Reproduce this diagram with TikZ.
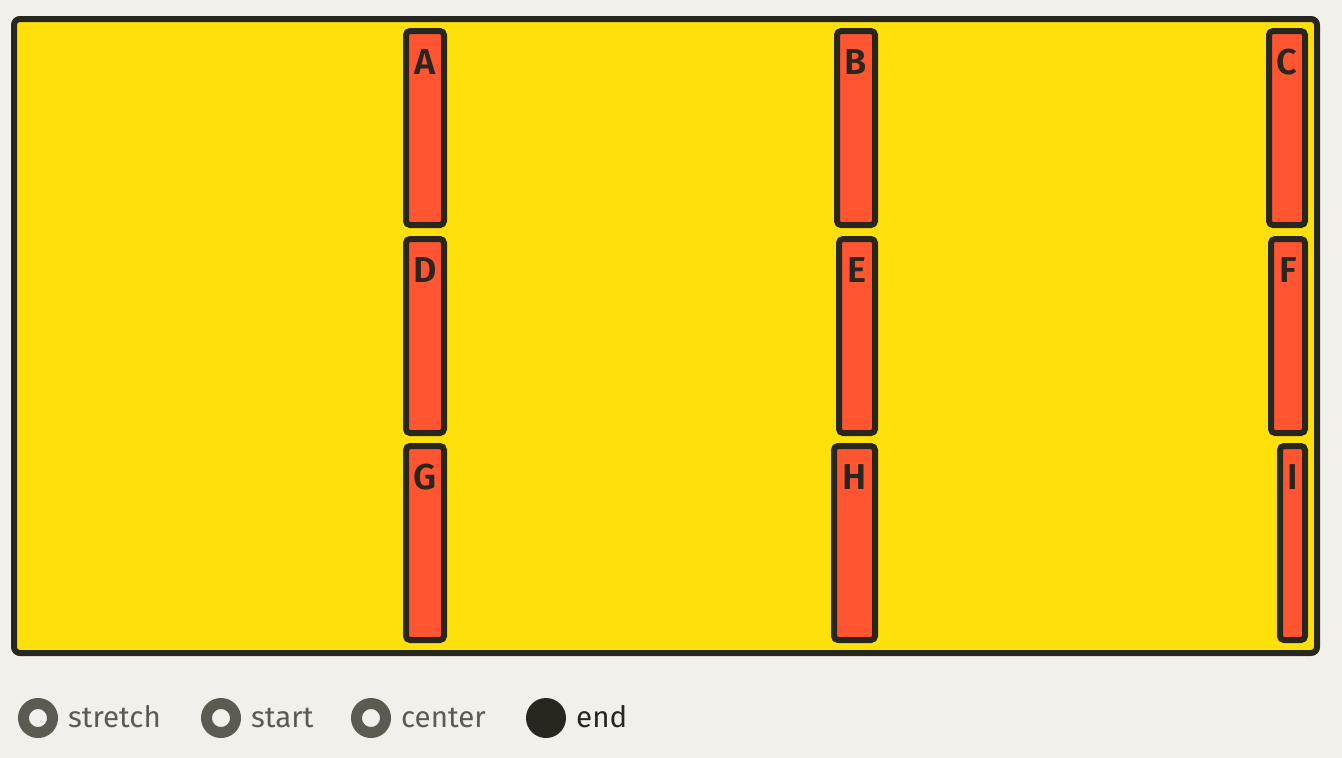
\documentclass[tikz,border=0pt]{standalone}
\usepackage{fontspec}
\setmainfont{Fira Sans}
\newfontfamily\semib{Fira Sans SemiBold}
\definecolor{bgc}{HTML}{F2F0EB}
\definecolor{yel}{HTML}{FFE00A}
\definecolor{itm}{HTML}{FF5530}
\definecolor{ink}{HTML}{27261F}
\definecolor{gry}{HTML}{5C5B52}
\begin{document}
\begin{tikzpicture}[x=1pt,y=-1pt,
  container/.style={draw=ink,fill=yel,line width=6pt,rounded corners=6pt},
  item/.style={draw=ink,fill=itm,line width=6pt,rounded corners=4pt},
  lbl/.style={anchor=base,text=ink,font=\fontsize{36}{40}\selectfont\semib,inner sep=0pt},
  radio/.style={circle,draw=gry,line width=11pt,minimum size=29pt,inner sep=0pt},
  radioon/.style={circle,fill=ink,minimum size=40pt,inner sep=0pt},
  opt/.style={anchor=base west,text=gry,font=\fontsize{29.5}{32}\selectfont,inner sep=0pt}]
\useasboundingbox[fill=bgc] (0,0) rectangle (1342,758);
\draw[container] (14,19) rectangle (1317,653);
% items: name, x1, x2, row
\foreach \n/\xa/\xb/\ya/\yb in {A/406/444/31/225, B/837/875/31/225, C/1269/1305/31/225,
  D/406/444/239/433, E/839/875/239/433, F/1271/1305/239/433,
  G/406/444/446/640, H/834/875/446/640, I/1280/1305/446/640}{
  \draw[item] (\xa,\ya) rectangle (\xb,\yb);
  \node[lbl] (\n) at ({(\xa+\xb)/2},\ya+43) {\n};
}
\node[radio] (r1) at (38,718) {};
\node[opt] (t1) at (68,727.5) {stretch};
\node[radio] (r2) at (221,718) {};
\node[opt] (t2) at (251,727.5) {start};
\node[radio] (r3) at (371,718) {};
\node[opt] (t3) at (401,727.5) {center};
\node[radioon] (r4) at (546,718) {};
\node[opt,text=ink] (t4) at (576,727.5) {end};
\end{tikzpicture}
\end{document}
